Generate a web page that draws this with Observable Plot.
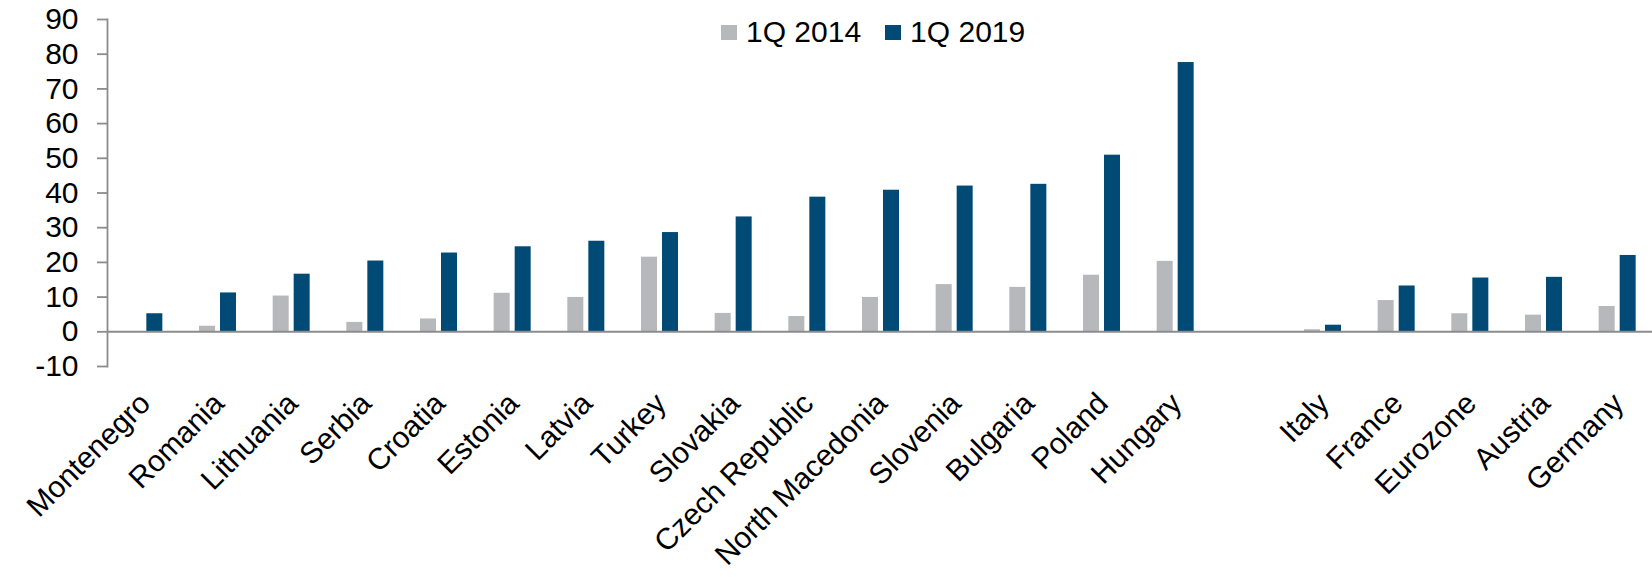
<!DOCTYPE html>
<html>
<head>
<meta charset="utf-8">
<script src="https://cdn.jsdelivr.net/npm/d3@7"></script>
<script src="https://cdn.jsdelivr.net/npm/@observablehq/plot@0.6"></script>
<style>
  body { margin: 0; background: #fff; }
  #wrap { position: relative; width: 1652px; height: 577px; font-family: "Liberation Sans", Arial, sans-serif; }
  #legend { position: absolute; left: 721px; top: 15px; display: flex; align-items: center; font-size: 30px; color: #000; white-space: nowrap; }
  #legend .sw { display: inline-block; width: 16px; height: 15px; margin-right: 9px; }
  #legend .lab { margin-right: 24px; }
</style>
</head>
<body>
<div id="wrap"><div id="chart"></div><div id="legend"></div></div>
<script>
const countries = ["Montenegro","Romania","Lithuania","Serbia","Croatia","Estonia","Latvia","Turkey","Slovakia","Czech Republic","North Macedonia","Slovenia","Bulgaria","Poland","Hungary"," ","Italy","France","Eurozone","Austria","Germany"];
const series = ["1Q 2014", "1Q 2019"];
const v2014 = [null,1.6,10.3,2.7,3.7,11.1,9.9,21.5,5.3,4.4,9.9,13.6,12.8,16.3,20.3,null,0.6,9.0,5.2,4.8,7.3];
const v2019 = [5.2,11.2,16.6,20.4,22.7,24.5,26.1,28.6,33.1,38.8,40.8,42.0,42.5,50.9,77.6,null,1.9,13.2,15.5,15.7,22.0];
const yTicks = [-10,0,10,20,30,40,50,60,70,80,90];
const colors = ["#b7b8bc", "#004a75"];

const W = 1652, H = 577;
const left = 107, right = 1654;
const step = (right - left) / countries.length;
const barW = 16, gap = 2.5;

const rows2014 = countries.map((c, i) => ({country: c, value: v2014[i]})).filter(d => d.value != null);
const rows2019 = countries.map((c, i) => ({country: c, value: v2019[i]})).filter(d => d.value != null);

const chart = Plot.plot({
  width: W,
  height: H,
  marginLeft: left,
  marginRight: 0,
  marginTop: 19,
  marginBottom: 211,
  style: {fontFamily: '"Liberation Sans", Arial, sans-serif', background: "#fff", color: "#000"},
  x: {domain: countries, range: [left, right], padding: 0, round: false},
  y: {domain: [-10, 90]},
  marks: [
    Plot.barY(rows2014, {x: "country", y: "value", fill: colors[0],
      insetLeft: step / 2 - gap - barW, insetRight: step / 2 + gap}),
    Plot.barY(rows2019, {x: "country", y: "value", fill: colors[1],
      insetLeft: step / 2 + gap, insetRight: step / 2 - gap - barW}),
    Plot.ruleY([0], {stroke: "#8c8c8c", strokeWidth: 2}),
    Plot.frame({anchor: "left", stroke: "#8c8c8c", strokeWidth: 1.8}),
    Plot.axisY({ticks: yTicks, tickFormat: d => String(d), tickSize: 10, tickPadding: 19, fontSize: 30, stroke: "#8c8c8c", strokeWidth: 1.8, fill: "#000", label: null}),
    Plot.axisX({tickRotate: -45, tickSize: 0, tickPadding: 32, dx: 1, fontSize: 30, fill: "#000", label: null})
  ]
});
document.getElementById("chart").appendChild(chart);

const legend = document.getElementById("legend");
series.forEach((s, i) => {
  const sw = document.createElement("span");
  sw.className = "sw";
  sw.style.background = colors[i];
  const lab = document.createElement("span");
  lab.className = "lab";
  lab.textContent = s;
  legend.appendChild(sw);
  legend.appendChild(lab);
});
</script>
</body>
</html>
